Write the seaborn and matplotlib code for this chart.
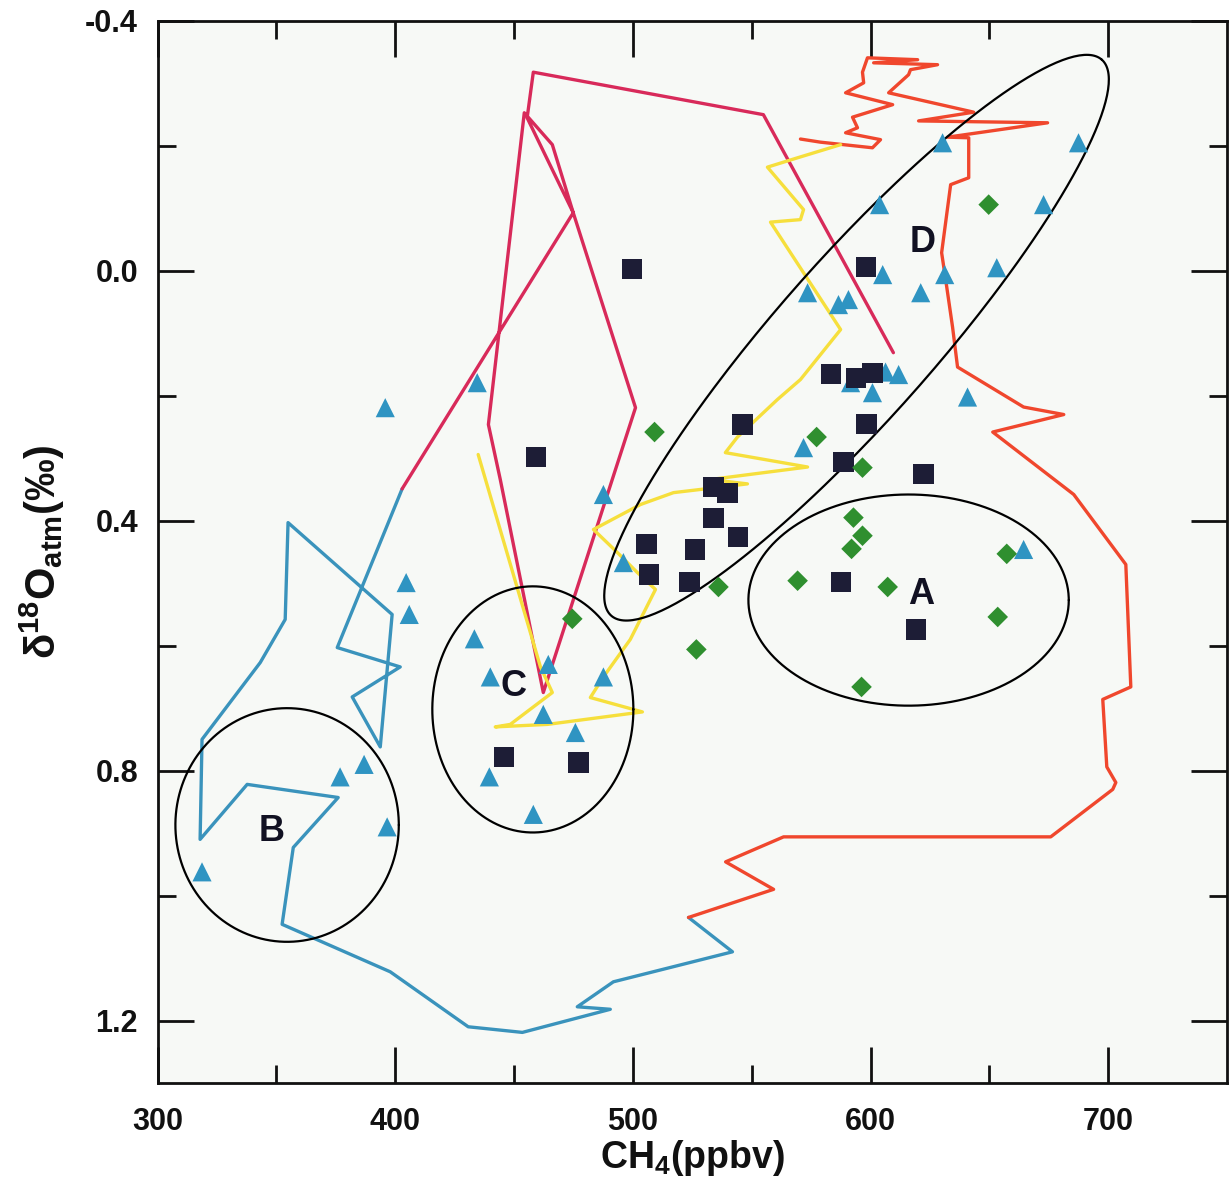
import numpy as np
import pandas as pd
import matplotlib
matplotlib.use("Agg")
import matplotlib.pyplot as plt
import seaborn as sns

sns.set_style("ticks")
plt.rcParams['font.family'] = ['Liberation Sans', 'DejaVu Sans']
plt.rcParams['mathtext.default'] = 'regular'
plt.rcParams['axes.unicode_minus'] = False
plt.rcParams['text.color'] = '#111111'
plt.rcParams['axes.labelcolor'] = '#111111'

# --- data (CH4 in ppbv, d18O atm in permil) ---
tri_ch4 = [318.7, 376.8, 386.9, 396.6, 395.8, 404.6, 405.9, 434.5, 433.3, 440.0,
           464.4, 487.6, 462.3, 475.8, 439.6, 458.1, 487.6, 496.0, 571.8, 573.5,
           586.5, 590.7, 605.1, 621.1, 631.2, 653.1, 603.8, 672.8, 630.3, 687.5,
           591.6, 600.8, 606.3, 611.8, 640.8, 664.4]
tri_d18o = [0.962, 0.810, 0.790, 0.890, 0.219, 0.499, 0.550, 0.179, 0.589, 0.650,
            0.630, 0.650, 0.710, 0.739, 0.810, 0.870, 0.358, 0.467, 0.283, 0.035,
            0.054, 0.046, 0.006, 0.035, 0.006, -0.005, -0.106, -0.106, -0.205, -0.205,
            0.179, 0.195, 0.162, 0.166, 0.202, 0.446]

sq_ch4 = [499.8, 459.4, 597.9, 583.2, 593.7, 600.8, 598.3, 588.6, 622.3, 587.4,
          619.0, 546.1, 533.9, 539.8, 533.9, 544.4, 505.7, 526.3, 506.9, 523.8,
          445.9, 477.1]
sq_d18o = [-0.003, 0.298, -0.006, 0.165, 0.171, 0.163, 0.245, 0.306, 0.325, 0.498,
           0.574, 0.246, 0.346, 0.355, 0.395, 0.426, 0.437, 0.446, 0.486, 0.498,
           0.778, 0.787]

dia_ch4 = [649.7, 509.1, 577.3, 596.6, 592.8, 596.6, 592.0, 657.3, 607.2, 653.5,
           596.2, 569.3, 536.0, 526.7, 474.5]
dia_d18o = [-0.106, 0.258, 0.266, 0.315, 0.395, 0.424, 0.445, 0.453, 0.506, 0.554,
            0.666, 0.496, 0.506, 0.606, 0.557]

# ice core records (lines)
red_ch4 = [570.5, 578.9, 600.8, 604.2, 589.5, 594.5, 592.4, 609.3, 589.5, 597.1,
           596.6, 598.7, 619.8, 601.3, 628.2, 616.8, 616.0, 607.6, 643.4, 620.2,
           674.5, 632.4, 641.3, 641.3, 633.7, 629.9, 631.6, 634.5, 636.6, 664.4,
           681.3, 651.4, 685.5, 707.4, 709.5, 697.7, 699.4, 703.2, 701.9, 675.8,
           563.4, 539.0, 559.2, 523.4]
red_d18o = [-0.211, -0.206, -0.197, -0.210, -0.221, -0.229, -0.246, -0.266, -0.285, -0.301,
            -0.318, -0.341, -0.338, -0.333, -0.330, -0.322, -0.314, -0.285, -0.254, -0.240,
            -0.237, -0.214, -0.213, -0.149, -0.138, -0.029, 0.014, 0.090, 0.154, 0.218,
            0.230, 0.258, 0.358, 0.470, 0.666, 0.686, 0.794, 0.819, 0.830, 0.906,
            0.906, 0.946, 0.990, 1.035]

blue_ch4 = [402.9, 375.6, 402.1, 381.9, 393.7, 398.7, 354.9, 353.7, 343.2, 318.7,
            317.9, 337.7, 376.0, 357.1, 352.4, 397.9, 430.7, 453.5, 490.5, 476.6,
            491.8, 541.9, 523.4]
blue_d18o = [0.349, 0.603, 0.634, 0.682, 0.762, 0.550, 0.403, 0.558, 0.627, 0.750,
             0.910, 0.822, 0.843, 0.923, 1.046, 1.122, 1.210, 1.219, 1.182, 1.178,
             1.138, 1.090, 1.035]

crimson_ch4 = [402.9, 474.9, 466.1, 454.3, 439.2, 444.2, 462.3, 501.1, 474.9, 455.5,
               458.1, 554.9, 609.6]
crimson_d18o = [0.349, -0.093, -0.202, -0.253, 0.246, 0.334, 0.675, 0.219, -0.093, -0.245,
                -0.318, -0.250, 0.131]

yellow_ch4 = [434.9, 461.1, 466.1, 448.4, 442.1, 464.0, 504.0, 482.1, 487.6, 498.9,
              509.5, 501.9, 493.5, 483.4, 503.2, 517.1, 548.2, 532.6, 573.5, 538.9,
              544.0, 560.8, 570.5, 587.4, 557.9, 570.5, 571.8, 556.6, 569.3, 587.4]
yellow_d18o = [0.294, 0.634, 0.675, 0.726, 0.730, 0.726, 0.706, 0.683, 0.650, 0.590,
               0.510, 0.483, 0.451, 0.414, 0.374, 0.355, 0.341, 0.334, 0.314, 0.291,
               0.266, 0.206, 0.174, 0.094, -0.078, -0.082, -0.098, -0.166, -0.181, -0.202]

# cluster ellipses: centre, half axis vectors (data units)
ell_names = ["A", "B", "C", "D"]
ell_centre = [(616.0, 0.527), (354.5, 0.887), (457.9, 0.702), (594.1, 0.107)]
ell_axis1 = [(67.4, 0.0), (47.0, 0.0), (42.3, 0.0), (103.2, -0.445)]
ell_axis2 = [(0.0, 0.169), (0.0, 0.187), (0.0, 0.197), (24.9, 0.0835)]
label_pos = [(621.1, 0.518), (348.2, 0.898), (449.7, 0.666), (621.9, -0.045)]


def ellipse_points(centre, v1, v2, n=300):
    t = np.linspace(0, 2 * np.pi, n)
    x = centre[0] + v1[0] * np.cos(t) + v2[0] * np.sin(t)
    y = centre[1] + v1[1] * np.cos(t) + v2[1] * np.sin(t)
    return x, y


fig = plt.figure(figsize=(12.31, 11.84), dpi=100)
ax = fig.add_axes([0.128, 0.0853, 0.8688, 0.897])
ax.set_facecolor("#f7f9f6")

# records
line_kw = dict(sort=False, estimator=None, linewidth=2.4, ax=ax, legend=False)
sns.lineplot(x=blue_ch4, y=blue_d18o, color="#3a93bc", **line_kw)
sns.lineplot(x=red_ch4, y=red_d18o, color="#f0472d", **line_kw)
sns.lineplot(x=crimson_ch4, y=crimson_d18o, color="#d82a5a", **line_kw)
sns.lineplot(x=yellow_ch4, y=yellow_d18o, color="#f6df3c", **line_kw)

# ellipses
for centre, v1, v2 in zip(ell_centre, ell_axis1, ell_axis2):
    ex, ey = ellipse_points(centre, v1, v2)
    ax.plot(ex, ey, color="black", linewidth=1.6, zorder=3)

for name, (lx, ly) in zip(ell_names, label_pos):
    ax.text(lx, ly, name, fontsize=26, fontweight="bold", color="#111122",
            ha="center", va="center", zorder=5)

# samples
sns.scatterplot(x=tri_ch4, y=tri_d18o, marker="^", s=190, color="#2f94c2",
                edgecolor="none", ax=ax, zorder=4)
sns.scatterplot(x=sq_ch4, y=sq_d18o, marker="s", s=210, color="#1d1d36",
                edgecolor="none", ax=ax, zorder=4)
sns.scatterplot(x=dia_ch4, y=dia_d18o, marker="D", s=110, color="#2f8f2f",
                edgecolor="none", ax=ax, zorder=4)

ax.set_xlim(300, 750)
ax.set_ylim(1.3, -0.4)
ax.set_xticks([300, 400, 500, 600, 700])
ax.set_xticks([350, 450, 550, 650], minor=True)
ax.set_yticks([-0.4, 0.0, 0.4, 0.8, 1.2])
ax.set_yticks([-0.2, 0.2, 0.6, 1.0], minor=True)
ax.set_yticklabels(["-0.4", "0.0", "0.4", "0.8", "1.2"])
ax.tick_params(which="both", direction="in", top=True, right=True, width=2,
               colors="#111111")
ax.tick_params(which="major", length=26)
ax.tick_params(which="minor", length=13)
ax.tick_params(axis="x", which="major", pad=17, labelsize=22)
ax.tick_params(axis="y", which="major", pad=14, labelsize=22)
for lab in ax.get_xticklabels() + ax.get_yticklabels():
    lab.set_fontweight("bold")
for sp in ax.spines.values():
    sp.set_linewidth(2)
    sp.set_color("#111111")

ax.set_xlabel(r"CH$_4$(ppbv)", fontsize=27, fontweight="bold", color="#111111")
ax.set_ylabel(r"δ$^{18}$O$_{atm}$(‰)", fontsize=30, fontweight="bold", color="#111111")
ax.xaxis.set_label_coords(0.5, -0.052)
ax.yaxis.set_label_coords(-0.085, 0.5)

plt.savefig("out.png", dpi=100)
